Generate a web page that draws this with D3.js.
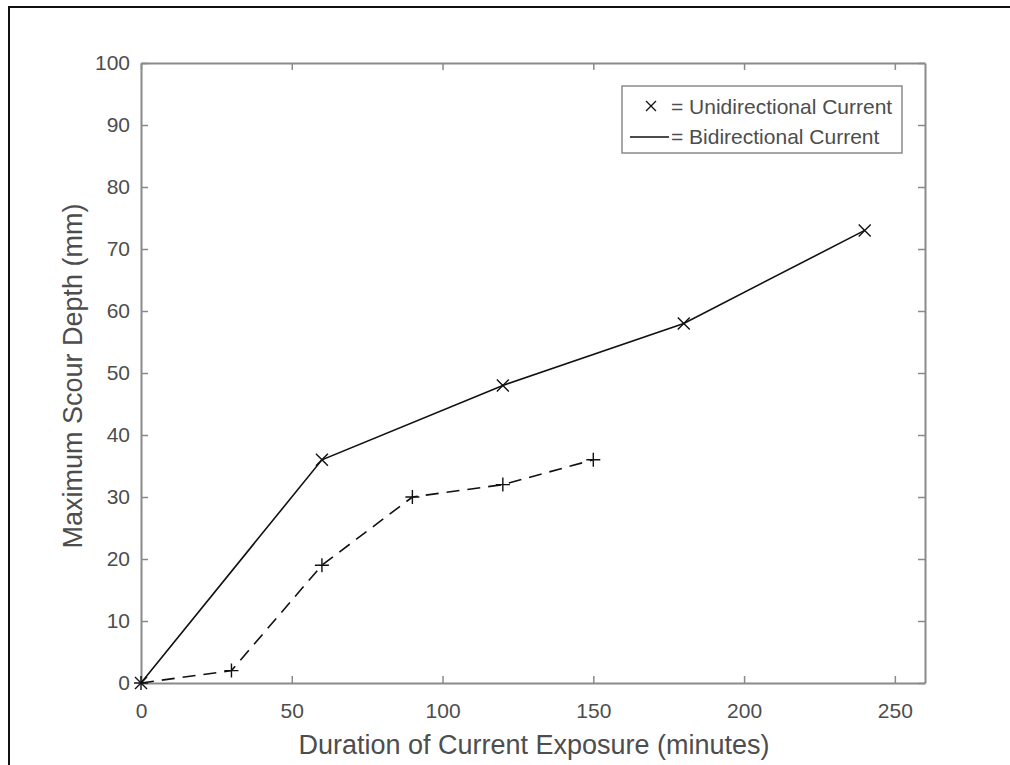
<!DOCTYPE html>
<html>
<head>
<meta charset="utf-8">
<script src="https://cdn.jsdelivr.net/npm/d3@7"></script>
<style>
  body { margin: 0; background: #fff; }
  text { font-family: "Liberation Sans", Arial, sans-serif; }
</style>
</head>
<body>
<svg id="chart" width="1010" height="765"></svg>
<script>
/* DATA */
const bidirMinutes = [0, 60, 120, 180, 240];
const bidirDepth = [0, 36, 48, 58, 73];
const unidirMinutes = [0, 30, 60, 90, 120, 150];
const unidirDepth = [0, 2, 19, 30, 32, 36];
const xTicks = [0, 50, 100, 150, 200, 250];
const yTicks = [0, 10, 20, 30, 40, 50, 60, 70, 80, 90, 100];
const legendLabels = ["= Unidirectional Current", "= Bidirectional Current"];

/* LAYOUT */
const margin = {top: 63, left: 141, right: 85, bottom: 82};
const width = 1010, height = 765;
const innerW = width - margin.left - margin.right,
      innerH = height - margin.top - margin.bottom;
const axisCol = "#8a8a8a", textCol = "#4d4d4d";

const svg = d3.select("#chart");

// outer frame (left + top visible)
svg.append("path")
  .attr("d", `M9,${height} L9,7 L${width},7`)
  .attr("fill", "none").attr("stroke", "#111").attr("stroke-width", 2);

const g = svg.append("g").attr("transform", `translate(${margin.left},${margin.top})`);

/* SCALES */
const x = d3.scaleLinear().domain([0, 260]).range([0, innerW]);
const y = d3.scaleLinear().domain([0, 100]).range([innerH, 0]);

/* AXES */
function styleAxis(sel) {
  sel.attr("font-size", null).attr("font-family", null);
  sel.select(".domain").attr("stroke", axisCol).attr("stroke-width", 2);
  sel.selectAll(".tick line").attr("stroke", axisCol).attr("stroke-width", 1.5);
  sel.selectAll(".tick text").attr("fill", textCol).style("font-size", "21px");
}

g.append("g").attr("transform", `translate(0,${innerH})`)
  .call(d3.axisBottom(x).tickValues(xTicks).tickSizeInner(-7).tickSizeOuter(0).tickPadding(20))
  .call(styleAxis);
g.append("g")
  .call(d3.axisTop(x).tickValues(xTicks).tickSizeInner(-7).tickSizeOuter(0).tickFormat(""))
  .call(styleAxis);
g.append("g")
  .call(d3.axisLeft(y).tickValues(yTicks).tickSizeInner(-7).tickSizeOuter(0).tickPadding(11))
  .call(styleAxis);
g.append("g").attr("transform", `translate(${innerW},0)`)
  .call(d3.axisRight(y).tickValues(yTicks).tickSizeInner(-7).tickSizeOuter(0).tickFormat(""))
  .call(styleAxis);

/* AXIS LABELS */
g.append("text")
  .attr("x", innerW / 2 + 1).attr("y", innerH + 71)
  .attr("text-anchor", "middle").attr("fill", textCol).style("font-size", "27px")
  .text("Duration of Current Exposure (minutes)");
g.append("text")
  .attr("transform", `translate(-59,${innerH / 2 + 3}) rotate(-90)`)
  .attr("text-anchor", "middle").attr("fill", textCol).style("font-size", "27px")
  .text("Maximum Scour Depth (mm)");

/* LINES */
const bidir = bidirMinutes.map((m, i) => ({m, d: bidirDepth[i]}));
const unidir = unidirMinutes.map((m, i) => ({m, d: unidirDepth[i]}));
const line = d3.line().x(d => x(d.m)).y(d => y(d.d));

g.append("path").datum(bidir).attr("d", line)
  .attr("fill", "none").attr("stroke", "#111").attr("stroke-width", 1.6);
g.append("path").datum(unidir).attr("d", line)
  .attr("fill", "none").attr("stroke", "#111").attr("stroke-width", 1.6)
  .attr("stroke-dasharray", "13 8");

/* MARKERS */
const s = 6;
const crossX = `M${-s},${-s}L${s},${s}M${-s},${s}L${s},${-s}`;
const plus = `M${-s - 1},0L${s + 1},0M0,${-s - 1}L0,${s + 1}`;

g.selectAll("path.xmark").data(bidir).join("path")
  .attr("class", "xmark")
  .attr("transform", d => `translate(${x(d.m)},${y(d.d)})`)
  .attr("d", crossX).attr("stroke", "#111").attr("stroke-width", 1.4);
g.selectAll("path.pmark").data(unidir).join("path")
  .attr("class", "pmark")
  .attr("transform", d => `translate(${x(d.m)},${y(d.d)})`)
  .attr("d", plus).attr("stroke", "#111").attr("stroke-width", 1.4);

/* LEGEND */
const lgX = 622, lgY = 86, lgW = 280, lgH = 67;
const lg = svg.append("g").attr("transform", `translate(${lgX},${lgY})`);
lg.append("rect").attr("width", lgW).attr("height", lgH)
  .attr("fill", "#fff").attr("stroke", axisCol).attr("stroke-width", 1.5);
lg.append("path").attr("transform", "translate(29,20)")
  .attr("d", `M-5,-5L5,5M-5,5L5,-5`).attr("stroke", "#111").attr("stroke-width", 1.3);
lg.append("line").attr("x1", 8).attr("x2", 47).attr("y1", 51).attr("y2", 51)
  .attr("stroke", "#111").attr("stroke-width", 1.3);
lg.selectAll("text.lbl").data(legendLabels).join("text")
  .attr("class", "lbl")
  .attr("x", 49).attr("y", (d, i) => 28 + i * 30)
  .attr("fill", textCol).style("font-size", "21px")
  .text(d => d);
</script>
</body>
</html>
